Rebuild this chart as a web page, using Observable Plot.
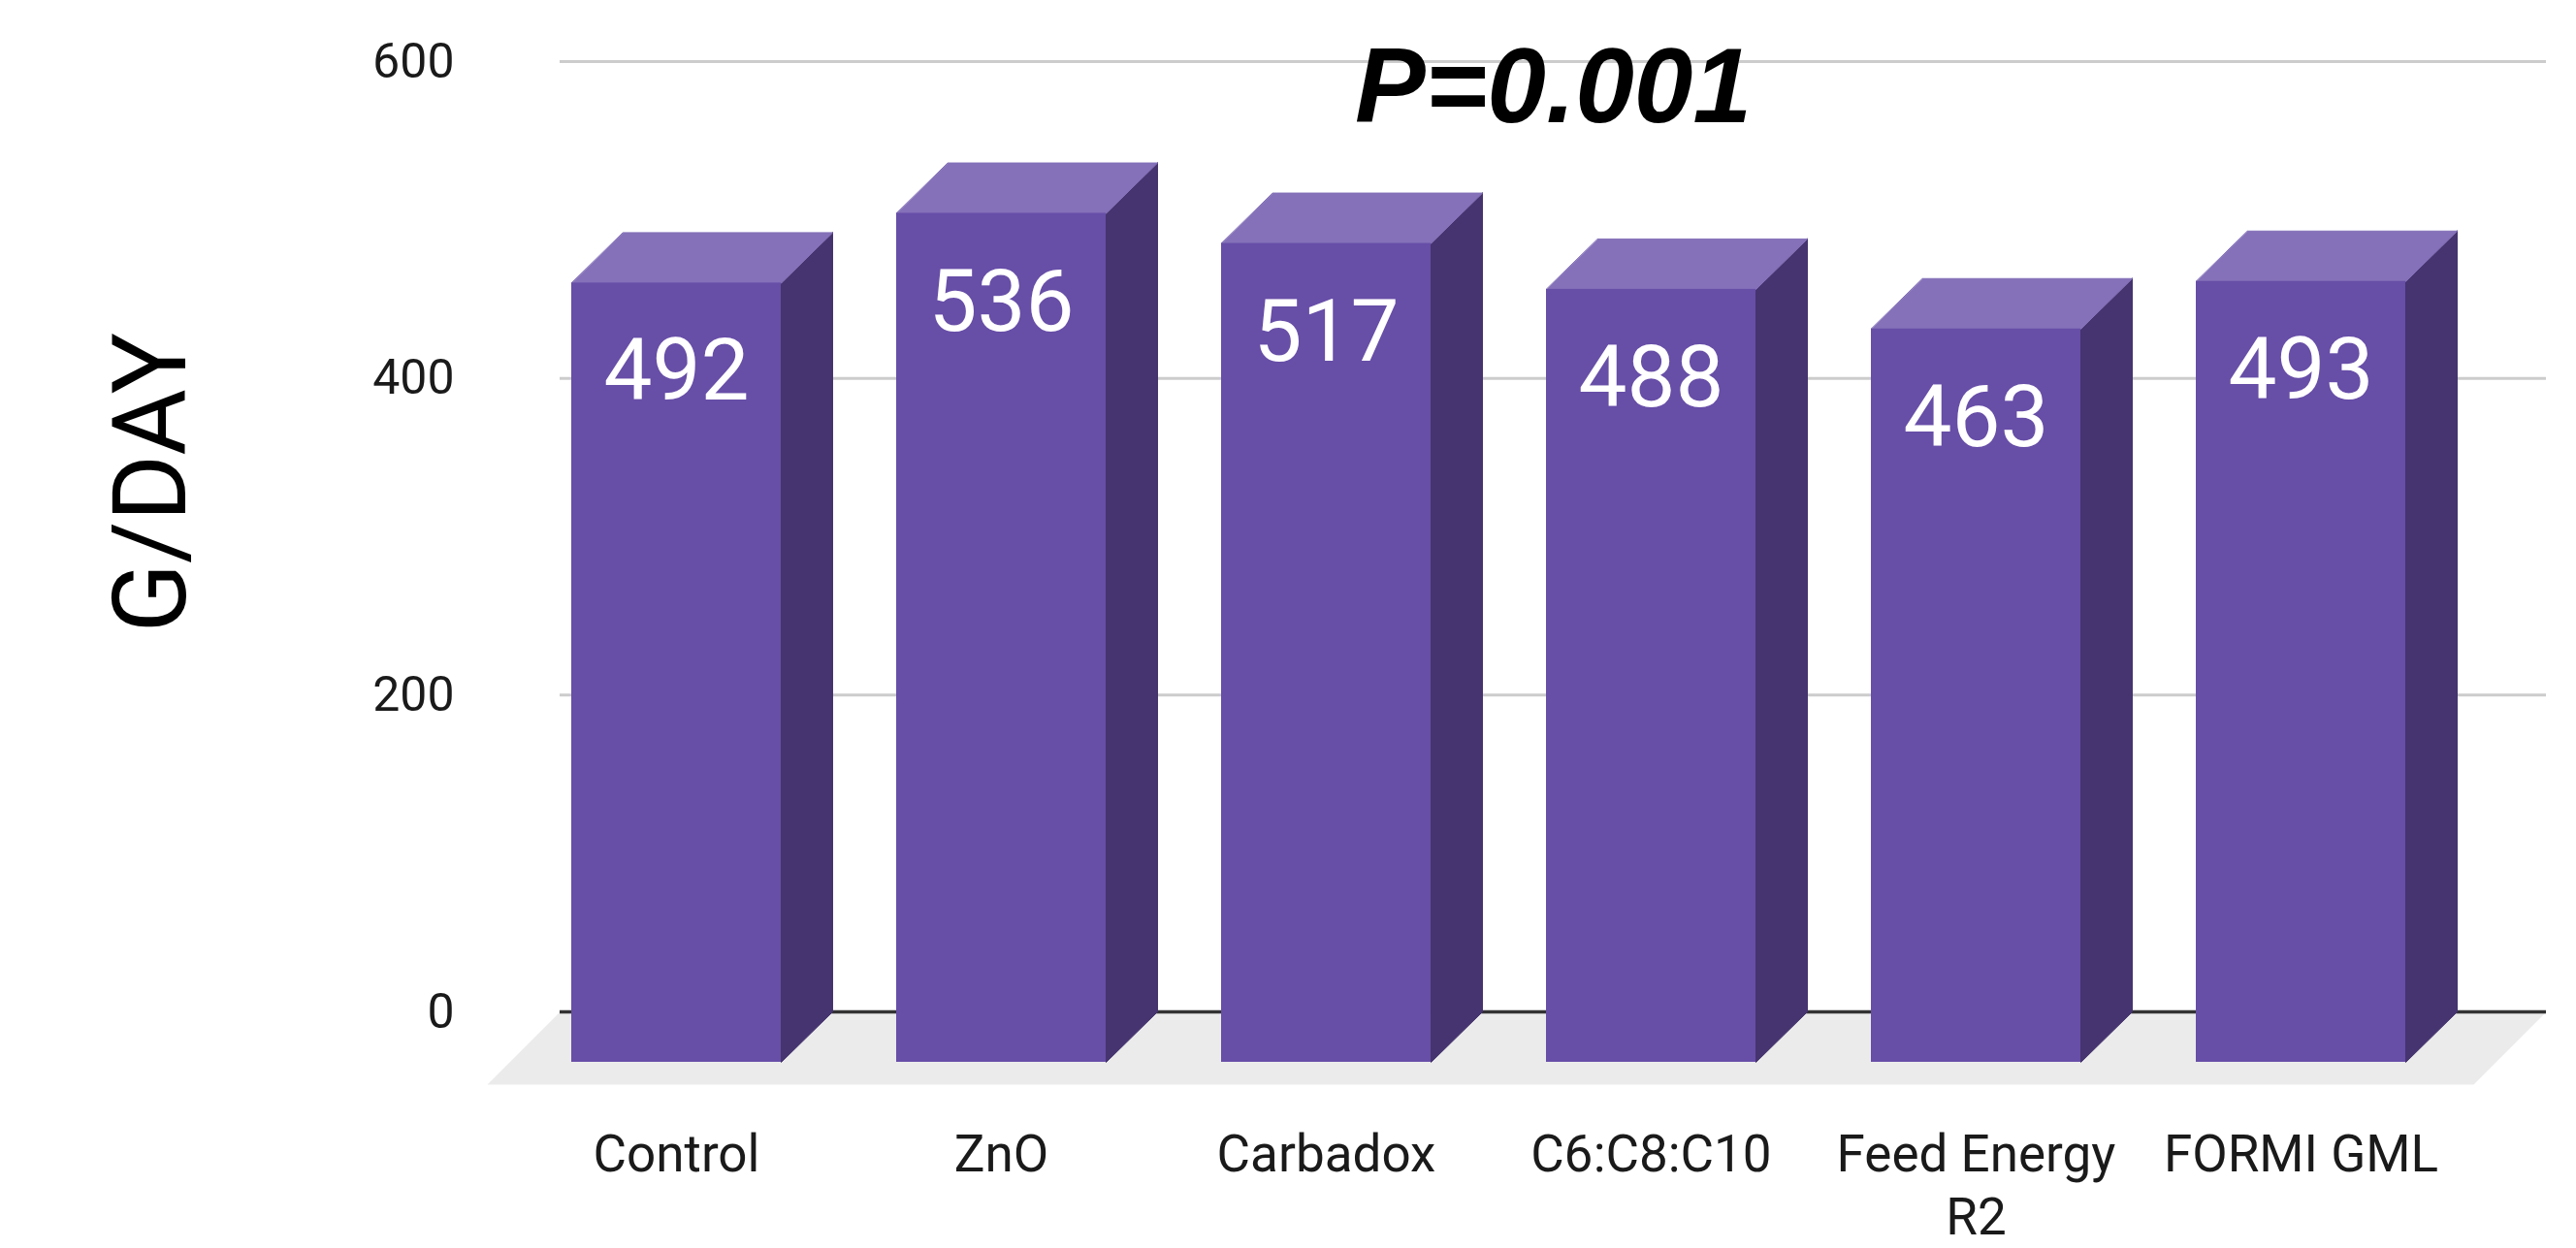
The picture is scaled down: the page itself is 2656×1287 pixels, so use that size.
<!DOCTYPE html>
<html>
<head>
<meta charset="utf-8">
<script src="https://cdn.jsdelivr.net/npm/d3@7"></script>
<script src="https://cdn.jsdelivr.net/npm/@observablehq/plot@0.6"></script>
<style>
  html, body { margin: 0; padding: 0; background: #ffffff; }
  #chart svg { display: block; overflow: visible; }
</style>
</head>
<body>
<div id="chart"></div>
<script>
// ---- data ----
const categories = ["Control", "ZnO", "Carbadox", "C6:C8:C10", "Feed Energy R2", "FORMI GML"];
const values = [492, 536, 517, 488, 463, 493];
const yTicks = [0, 200, 400, 600];
const yLabel = "G/DAY";
const pLabel = "P=0.001";

// ---- layout / style ----
const W = 2656, H = 1287;
const marginLeft = 577, marginRight = 31, marginTop = 63, marginBottom = 244;
const xDomain = [-0.5164, 5.597];
const yDomain = [0, 600];
const pxPerX = (W - marginLeft - marginRight) / (xDomain[1] - xDomain[0]);
const pxPerY = (H - marginTop - marginBottom) / (yDomain[1] - yDomain[0]);
const depthX = -53, depthY = 52;     // bar depth in px
const floorDepth = 75;               // floor depth in px
const faceHalf = 108;                // half bar width in px

const ddx = depthX / pxPerX, ddy = -depthY / pxPerY, hw = faceHalf / pxPerX;
const fdx = -floorDepth / pxPerX, fdy = -floorDepth / pxPerY;

const colFront = "#674ea7", colTop = "#8471b9", colSide = "#45346f";

const bars = categories.map((c, i) => ({i, c, v: values[i]}));

const topFaces = bars.flatMap(b => [
  [b.i - hw, b.v], [b.i + hw, b.v], [b.i + hw + ddx, b.v + ddy], [b.i - hw + ddx, b.v + ddy]
].map(([x, y]) => ({bar: b.i, x, y})));

const sideFaces = bars.flatMap(b => [
  [b.i + hw, b.v], [b.i + hw, 0], [b.i + hw + ddx, ddy], [b.i + hw + ddx, b.v + ddy]
].map(([x, y]) => ({bar: b.i, x, y})));

const floor = [
  [xDomain[0], 0], [xDomain[1], 0], [xDomain[1] + fdx, fdy], [xDomain[0] + fdx, fdy]
].map(([x, y]) => ({x, y}));

const chart = Plot.plot({
  width: W,
  height: H,
  marginLeft, marginRight, marginTop, marginBottom,
  style: {fontFamily: "Roboto, 'Liberation Sans', sans-serif", background: "#ffffff", color: "#1a1a1a"},
  x: {type: "linear", domain: xDomain},
  y: {type: "linear", domain: yDomain},
  marks: [
    // floor
    Plot.line(floor, {x: "x", y: "y", fill: "#ebebeb", stroke: "none", curve: "linear-closed"}),
    // grid
    Plot.ruleY(yTicks.filter(d => d !== 0), {stroke: "#cccccc", strokeWidth: 3}),
    Plot.ruleY([0], {stroke: "#333333", strokeWidth: 3.5}),
    // y axis ticks
    Plot.axisY({ticks: yTicks, tickSize: 0, tickPadding: 109, fontSize: 50, label: null}),
    // x axis labels under the bar fronts
    Plot.axisX({
      ticks: d3.range(categories.length),
      tickFormat: i => categories[i],
      tickSize: 0, tickPadding: 119, fontSize: 53,
      lineWidth: 6.5, lineHeight: 1.22,
      dx: depthX, label: null
    }),
    // 3D bars
    Plot.line(sideFaces, {x: "x", y: "y", z: "bar", fill: colSide, stroke: colSide, strokeWidth: 1, curve: "linear-closed"}),
    Plot.line(topFaces, {x: "x", y: "y", z: "bar", fill: colTop, stroke: colTop, strokeWidth: 1, curve: "linear-closed"}),
    Plot.rect(bars, {
      x1: d => d.i - hw + ddx, x2: d => d.i + hw + ddx,
      y1: ddy, y2: d => d.v + ddy,
      fill: colFront
    }),
    // value labels
    Plot.text(bars, {x: d => d.i + ddx, y: "v", text: d => String(d.v), dy: 144, fill: "#ffffff", fontSize: 89}),
    // y label
    Plot.text([yLabel], {frameAnchor: "left", rotate: -90, dx: -420, dy: 99, fontSize: 105, fill: "#000000"}),
    // p-value
    Plot.text([pLabel], {
      frameAnchor: "top", lineAnchor: "top", dy: -15,
      fontSize: 109, fontWeight: "bold", fontStyle: "italic",
      fontFamily: "'Liberation Sans', Arial, sans-serif", fill: "#000000"
    })
  ]
});

document.getElementById("chart").appendChild(chart);
</script>
</body>
</html>
